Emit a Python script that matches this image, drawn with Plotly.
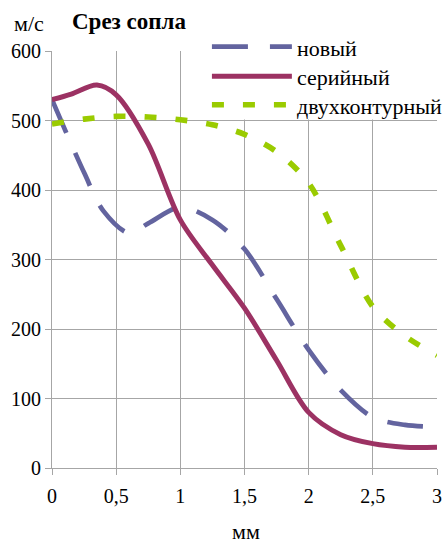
import plotly.graph_objects as go

# Скорость на срезе сопла, м/с, в зависимости от расстояния, мм
x_new = [0, 0.25, 0.4, 0.6, 0.75, 1.0, 1.25, 1.5, 1.75, 2.0, 2.25, 2.5, 2.75, 3.0]
v_new = [530, 425, 370, 338, 352, 375, 357, 315, 243, 170, 112, 73, 62, 59]

x_serial = [0, 0.15, 0.35, 0.5, 0.75, 1.0, 1.25, 1.5, 1.75, 2.0, 2.25, 2.5, 2.75, 3.0]
v_serial = [530, 538, 551, 537, 466, 357, 292, 230, 155, 80, 48, 35, 30, 30]

x_dual = [0, 0.25, 0.5, 0.75, 1.0, 1.25, 1.5, 1.75, 2.0, 2.25, 2.5, 2.75, 3.0]
v_dual = [495, 502, 506, 505, 501, 494, 480, 455, 410, 320, 232, 190, 162]

series_names = ["новый", "серийный", "двухконтурный"]
x_ticks = [0, 0.5, 1, 1.5, 2, 2.5, 3]
x_tick_text = ["0", "0,5", "1", "1,5", "2", "2,5", "3"]
y_ticks = [0, 100, 200, 300, 400, 500, 600]

FONT = "Liberation Serif"
C_NEW = "#63649F"
C_SERIAL = "#9C3263"
C_DUAL = "#9ACB00"
GRID = "#A6A6A6"

W, H = 448, 545
L, R, T, B = 52, 6, 51, 77

fig = go.Figure()
fig.add_trace(go.Scatter(x=x_new, y=v_new, mode="lines", name=series_names[0],
                         line=dict(color=C_NEW, width=4.7, dash="36px,22px", shape="spline", smoothing=0.9),
                         showlegend=False))
fig.add_trace(go.Scatter(x=x_serial, y=v_serial, mode="lines", name=series_names[1],
                         line=dict(color=C_SERIAL, width=5, shape="spline", smoothing=0.9),
                         showlegend=False))
fig.add_trace(go.Scatter(x=x_dual, y=v_dual, mode="lines", name=series_names[2],
                         line=dict(color=C_DUAL, width=5.6, dash="12px,19px", shape="spline", smoothing=0.9),
                         showlegend=False))


def px_x(p):
    return (p - L) / (W - L - R)


def px_y(p):
    return (H - B - p) / (H - T - B)


shapes = [
    # white backing for the legend block
    dict(type="rect", xref="paper", yref="paper", layer="above",
         x0=px_x(203), x1=px_x(450), y0=px_y(119.5), y1=px_y(30),
         fillcolor="white", line=dict(width=0)),
]
styles = [
    dict(color=C_NEW, width=4.7, dash="36px,22px"),
    dict(color=C_SERIAL, width=5, dash="solid"),
    dict(color=C_DUAL, width=5.6, dash="12px,19px"),
]
rows = [46.7, 76.3, 104.7]
annotations = []
for name, st, yy in zip(series_names, styles, rows):
    shapes.append(dict(type="line", xref="paper", yref="paper", layer="above",
                       x0=px_x(214), x1=px_x(295), y0=px_y(yy), y1=px_y(yy), line=st))
    annotations.append(dict(text=name, xref="paper", yref="paper", x=px_x(298), y=px_y(yy + 1.5),
                            xanchor="left", yanchor="middle", showarrow=False,
                            font=dict(family=FONT, size=22, color="black")))

annotations += [
    dict(text="<b>Срез сопла</b>", xref="paper", yref="paper", x=px_x(130), y=px_y(22),
         xanchor="center", yanchor="middle", showarrow=False,
         font=dict(family=FONT, size=23, color="black")),
    dict(text="м/с", xref="paper", yref="paper", x=px_x(28.5), y=px_y(24),
         xanchor="center", yanchor="middle", showarrow=False,
         font=dict(family=FONT, size=22, color="black")),
    dict(text="мм", xref="paper", yref="paper", x=px_x(249), y=px_y(531),
         xanchor="center", yanchor="middle", showarrow=False,
         font=dict(family=FONT, size=22, color="black")),
]

fig.update_layout(
    width=W, height=H,
    margin=dict(l=L, r=R, t=T, b=B),
    paper_bgcolor="white", plot_bgcolor="white",
    font=dict(family=FONT, size=20, color="black"),
    shapes=shapes, annotations=annotations,
    showlegend=False,
)
fig.update_xaxes(range=[0, 3], tickvals=x_ticks, ticktext=x_tick_text,
                 showgrid=True, gridcolor=GRID, gridwidth=1,
                 showline=True, linecolor=GRID, linewidth=1, zeroline=False,
                 ticks="outside", ticklen=6, tickcolor=GRID, ticklabelstandoff=4,
                 tickfont=dict(family=FONT, size=20, color="black"))
fig.update_yaxes(range=[0, 600], tickvals=y_ticks,
                 showgrid=True, gridcolor=GRID, gridwidth=1,
                 showline=True, linecolor=GRID, linewidth=1, zeroline=False,
                 ticks="outside", ticklen=6, tickcolor=GRID,
                 tickfont=dict(family=FONT, size=20, color="black"))

fig.write_html("out.html")
